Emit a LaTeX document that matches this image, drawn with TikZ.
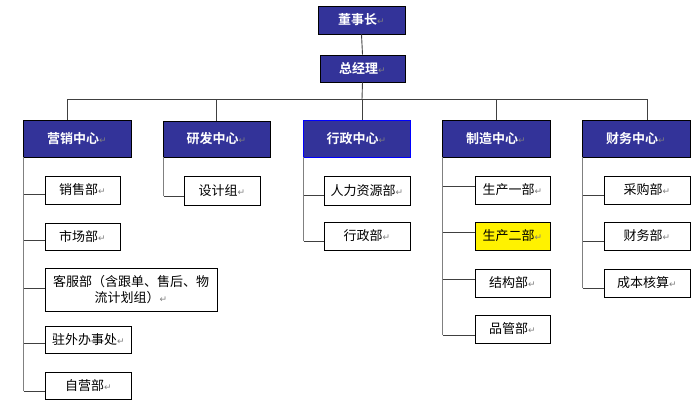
\documentclass[tikz,border=0pt]{standalone}
\usepackage{fontspec}
\newfontfamily\cjk{Noto Sans CJK SC}
\newfontfamily\cjkb{Noto Sans CJK SC Bold}
\newfontfamily\djv{DejaVu Sans}
\newcommand{\ret}{{\djv\color{gray}\fontsize{9}{9}\selectfont ↵}}
\definecolor{navy}{HTML}{333399}
\begin{document}
\begin{tikzpicture}[x=1pt,y=-1pt,
  head/.style={draw=black, fill=navy, text=white, font=\cjkb\fontsize{13}{15}\selectfont, inner sep=0pt, line width=0.8pt},
  child/.style={draw=black, fill=white, font=\cjk\fontsize{13}{16}\selectfont, inner sep=0pt, line width=0.8pt},
  conn/.style={draw=black!75, line width=0.9pt},
  spine/.style={draw=gray, line width=1.2pt}]
\useasboundingbox (0,0) rectangle (698,412);
% top
\node[head, minimum width=87, minimum height=28] (dsz) at (361.5,20) {董事长\ret};
\node[head, minimum width=85, minimum height=27] (zjl) at (362.5,68.5) {总经理\ret};
% centers
\node[head, minimum width=108, minimum height=37] (c1) at (77,138.5) {营销中心\ret};
\node[head, minimum width=107, minimum height=36] (c2) at (216.5,139) {研发中心\ret};
\node[head, draw=blue, minimum width=107, minimum height=37] (c3) at (356.5,138.5) {行政中心\ret};
\node[head, minimum width=108, minimum height=37] (c4) at (496,138.5) {制造中心\ret};
\node[head, minimum width=108, minimum height=37] (c5) at (636,138.5) {财务中心\ret};
% bus
\coordinate (bus) at (362,99);
\coordinate (busL) at (67,99);
\coordinate (busR) at (647,99);
\draw[conn] (dsz.south) -- (zjl.north);
\draw[conn] (zjl.south) -- (bus);
\draw[conn] (busL) -- (busR);
\draw[conn] (busL) -- (busL |- c1.north);
\draw[conn] (c2.north |- bus) -- (c2.north);
\draw[conn] (bus) -- (bus |- c3.north);
\draw[conn] (c4.north |- bus) -- (c4.north);
\draw[conn] (busR) -- (busR |- c5.north);
% children of 营销
\node[child, minimum width=75, minimum height=28] (a1) at (82.5,190) {销售部\ret};
\node[child, minimum width=75, minimum height=27] (a2) at (82.5,236.5) {市场部\ret};
\node[child, minimum width=172, minimum height=43, align=center] (a3) at (131,289.5) {客服部（含跟单、售后、物\\流计划组）\ret};
\node[child, minimum width=86, minimum height=27, anchor=west] (a4) at (45,339.5) {驻外办事处\ret};
\node[child, minimum width=86, minimum height=27, anchor=west] (a5) at (45,385.5) {自营部\ret\hspace{26pt}};
\coordinate (s1) at (23.5,391);
\draw[spine] (c1.south west -| s1) -- (s1);
\foreach \n in {a1,a2,a4} \draw[conn] ([yshift=-4pt]\n.west) -- ([yshift=-4pt]\n.west -| s1);
\draw[conn] ([yshift=1.5pt]a3.west) -- ([yshift=1.5pt]a3.west -| s1);
\draw[conn] (s1) -- (a5.west |- s1);
% 研发
\node[child, minimum width=76, minimum height=29] (b1) at (222,190.5) {设计组\ret};
\coordinate (s2) at (163.5,196);
\draw[spine] (c2.south west -| s2) -- (s2);
\draw[conn] (s2) -- (b1.west |- s2);
% 行政
\node[child, minimum width=86, minimum height=29] (d1) at (367,190.5) {人力资源部\ret};
\node[child, minimum width=86, minimum height=28] (d2) at (367,236) {行政部\ret\hspace{20pt}};
\coordinate (s3) at (303.5,241);
\draw[spine] (c3.south west -| s3) -- (s3);
\draw[conn] ([yshift=-4.5pt]d1.west) -- ([yshift=-4.5pt]d1.west -| s3);
\draw[conn] (s3) -- (d2.west |- s3);
% 制造
\node[child, minimum width=75, minimum height=28] (e1) at (512.5,190) {生产一部\ret};
\node[child, fill=yellow, minimum width=75, minimum height=28] (e2) at (512.5,236) {生产二部\ret};
\node[child, minimum width=75, minimum height=28] (e3) at (512.5,283) {结构部\ret};
\node[child, minimum width=75, minimum height=28] (e4) at (512.5,329) {品管部\ret};
\coordinate (s4) at (442.5,335);
\draw[spine] (c4.south west -| s4) -- (s4);
\foreach \n in {e1,e2,e3} \draw[conn] ([yshift=4pt]\n.west) -- ([yshift=4pt]\n.west -| s4);
\draw[conn] (s4) -- (e4.west |- s4);
% 财务
\node[child, minimum width=86, minimum height=28] (f1) at (647,190) {采购部\ret\hspace{22pt}};
\node[child, minimum width=86, minimum height=28] (f2) at (647,236) {财务部\ret\hspace{22pt}};
\node[child, minimum width=86, minimum height=28] (f3) at (647,283) {成本核算\ret\hspace{10pt}};
\coordinate (s5) at (582.5,288);
\draw[spine] (c5.south west -| s5) -- (s5);
\foreach \n in {f1,f2} \draw[conn] ([yshift=-5pt]\n.west) -- ([yshift=-5pt]\n.west -| s5);
\draw[conn] (s5) -- (f3.west |- s5);
\end{tikzpicture}
\end{document}
